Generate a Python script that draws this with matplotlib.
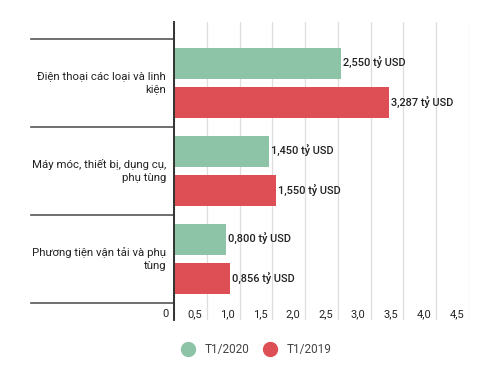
import matplotlib
matplotlib.use("Agg")
import matplotlib.pyplot as plt
from matplotlib.lines import Line2D
import matplotlib.transforms as mtransforms

categories = ["Điện thoại các loại và linh\nkiện",
              "Máy móc, thiết bị, dụng cụ,\nphụ tùng",
              "Phương tiện vận tải và phụ\ntùng"]
t1_2020 = [2.550, 1.450, 0.800]
t1_2019 = [3.287, 1.550, 0.856]
series_names = ["T1/2020", "T1/2019"]
xticks = [0, 0.5, 1.0, 1.5, 2.0, 2.5, 3.0, 3.5, 4.0, 4.5]
xticklabels = ["0", "0,5", "1,0", "1,5", "2,0", "2,5", "3,0", "3,5", "4,0", "4,5"]

green = "#8dc4a7"
red = "#dd4f55"
txt = "#222222"

plt.rcParams['font.family'] = ['Roboto', 'DejaVu Sans']

fig = plt.figure(figsize=(5, 3.71), dpi=100)
ax = fig.add_axes([0.348, 0.1375, 0.59, 0.8032])

h = 0.352
off = 0.222
for i in range(len(categories)):
    ax.barh(i - off, t1_2020[i], height=h, color=green, zorder=2)
    ax.barh(i + off, t1_2019[i], height=h, color=red, zorder=2)
    for v, y in ((t1_2020[i], i - off), (t1_2019[i], i + off)):
        s = f"{v:.3f}".replace(".", ",") + " tỷ USD"
        ax.text(v + 0.03, y, s, ha="left", va="center", fontsize=7.9,
                fontweight="medium", color=txt)
    ax.text(-0.12, i, categories[i], ha="right", va="center", fontsize=8.2,
            color=txt, linespacing=1.4)

ax.set_xlim(0, 4.5)
ax.set_ylim(2.693, -0.693)
ax.set_yticks([])
ax.set_xticks(xticks)
ax.set_xticklabels(xticklabels, fontsize=8, color=txt)
ax.tick_params(axis="x", length=0, pad=-8)
shift = mtransforms.ScaledTranslation(-5 / 100, 0, fig.dpi_scale_trans)
for lab in ax.get_xticklabels():
    lab.set_horizontalalignment("right")
    lab.set_transform(lab.get_transform() + shift)

ax.grid(axis="x", color="#dddddd", linewidth=0.9, zorder=0)
for sp in ["top", "right", "bottom"]:
    ax.spines[sp].set_visible(False)
ax.spines["left"].set_color("#333333")
ax.spines["left"].set_linewidth(1.4)

trans = mtransforms.blended_transform_factory(ax.transAxes, ax.transData)
for y in [-0.5, 0.5, 1.5, 2.5]:
    ax.plot([-0.485, 0], [y, y], transform=trans, color="#555555",
            linewidth=1.2, clip_on=False)

handles = [Line2D([], [], marker="o", linestyle="", markersize=10,
                  markerfacecolor=c, markeredgecolor=c) for c in (green, red)]
fig.legend(handles, series_names, loc="center", bbox_to_anchor=(0.508, 0.058),
           ncol=2, frameon=False, fontsize=8.5, handletextpad=0.4,
           columnspacing=0.8, labelcolor="#444444")

fig.savefig("out.png", dpi=100)
